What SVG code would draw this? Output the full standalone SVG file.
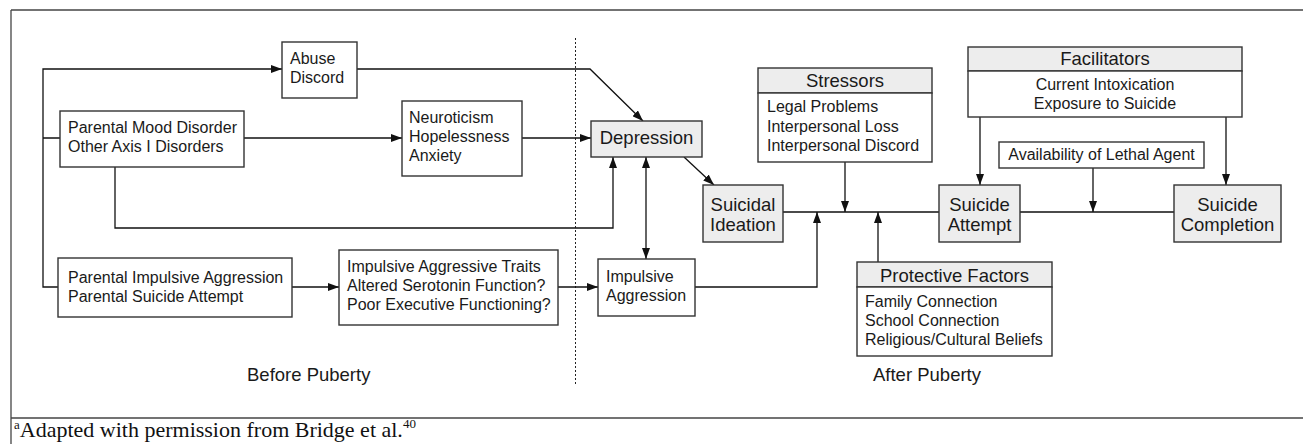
<svg xmlns="http://www.w3.org/2000/svg" width="1303" height="444" viewBox="0 0 1303 444">
<defs>
<marker id="arr" viewBox="0 0 11 8" refX="11" refY="4" markerWidth="11" markerHeight="8" markerUnits="userSpaceOnUse" orient="auto-start-reverse">
<path d="M0,0 L11,4 L0,8 z" fill="#111"/>
</marker>
<style>
.bx{fill:#fff;stroke:#333;stroke-width:1.4}
.sh{fill:#ededed;stroke:#333;stroke-width:1.4}
.t{font-family:"Liberation Sans",Arial,sans-serif;font-size:16px;fill:#1a1a1a}
.b{font-family:"Liberation Sans",Arial,sans-serif;font-size:18.5px;fill:#1a1a1a}
.c{text-anchor:middle}
.ln{fill:none;stroke:#111;stroke-width:1.3}
.ar{fill:none;stroke:#111;stroke-width:1.3;marker-end:url(#arr)}
</style>
</defs>
<rect width="1303" height="444" fill="#fff"/>
<g id="frame">
<line x1="11" y1="10" x2="1303" y2="10" stroke="#444" stroke-width="1.6"/>
<line x1="11" y1="10" x2="11" y2="444" stroke="#444" stroke-width="1.3"/>
<line x1="11" y1="418" x2="1303" y2="418" stroke="#444" stroke-width="1.6"/>
<line x1="575.5" y1="38" x2="575.5" y2="385" stroke="#222" stroke-width="1" stroke-dasharray="2,2"/>
</g>
<g id="connectors">
<path class="ar" d="M60,138 H43 M58,287 H43 V69 H282"/>
<path class="ar" d="M244,138 H402"/>
<path class="ar" d="M357,69 H590 L643,121"/>
<path class="ar" d="M522,138 H591"/>
<path class="ar" d="M115,167 V228 H613 V157"/>
<path class="ar" d="M646,157 V259" marker-start="url(#arr)"/>
<path class="ar" d="M684,157 L714,185"/>
<path class="ar" d="M292,287 H339"/>
<path class="ar" d="M558,287 H598"/>
<path class="ar" d="M695,287 H817 V212"/>
<path class="ln" d="M783,212 H939 M1020,212 H1174"/>
<path class="ar" d="M845,162 V212"/>
<path class="ar" d="M878,262 V212"/>
<path class="ar" d="M980,117 V185"/>
<path class="ar" d="M1226,117 V185"/>
<path class="ar" d="M1093,168 V212"/>
</g>
<g id="abuse">
<rect class="bx" x="282" y="42" width="75" height="56"/>
<text class="t" x="290" y="64">Abuse</text>
<text class="t" x="290" y="83">Discord</text>
</g>
<g id="parental-mood">
<rect class="bx" x="60" y="111" width="184" height="56"/>
<text class="t" x="68" y="133">Parental Mood Disorder</text>
<text class="t" x="68" y="152">Other Axis I Disorders</text>
</g>
<g id="neuroticism">
<rect class="bx" x="402" y="101" width="120" height="75"/>
<text class="t" x="409" y="123">Neuroticism</text>
<text class="t" x="409" y="142">Hopelessness</text>
<text class="t" x="409" y="161">Anxiety</text>
</g>
<g id="depression">
<rect class="sh" x="591" y="121" width="111" height="36"/>
<text class="b c" x="646.5" y="144">Depression</text>
</g>
<g id="suicidal-ideation">
<rect class="sh" x="703" y="185" width="80" height="57"/>
<text class="b c" x="743" y="211">Suicidal</text>
<text class="b c" x="743" y="231">Ideation</text>
</g>
<g id="parental-impulsive">
<rect class="bx" x="58" y="258" width="234" height="59"/>
<text class="t" x="68" y="283">Parental Impulsive Aggression</text>
<text class="t" x="68" y="302">Parental Suicide Attempt</text>
</g>
<g id="traits">
<rect class="bx" x="339" y="250" width="219" height="75"/>
<text class="t" x="347" y="272">Impulsive Aggressive Traits</text>
<text class="t" x="347" y="291">Altered Serotonin Function?</text>
<text class="t" x="347" y="310">Poor Executive Functioning?</text>
</g>
<g id="impulsive-aggression">
<rect class="bx" x="598" y="259" width="97" height="57"/>
<text class="t" x="606" y="282">Impulsive</text>
<text class="t" x="606" y="301">Aggression</text>
</g>
<g id="stressors">
<rect class="sh" x="758" y="68" width="174" height="25"/>
<rect class="bx" x="758" y="93" width="174" height="69"/>
<text class="b c" x="845" y="87">Stressors</text>
<text class="t" x="767" y="112">Legal Problems</text>
<text class="t" x="767" y="132">Interpersonal Loss</text>
<text class="t" x="767" y="151">Interpersonal Discord</text>
</g>
<g id="facilitators">
<rect class="sh" x="968" y="47" width="274" height="24"/>
<rect class="bx" x="968" y="71" width="274" height="46"/>
<text class="b c" x="1105" y="65">Facilitators</text>
<text class="t c" x="1105" y="90">Current Intoxication</text>
<text class="t c" x="1105" y="109">Exposure to Suicide</text>
</g>
<g id="lethal-agent">
<rect class="bx" x="999" y="142" width="205" height="26"/>
<text class="t c" x="1101.5" y="160">Availability of Lethal Agent</text>
</g>
<g id="suicide-attempt">
<rect class="sh" x="939" y="185" width="81" height="57"/>
<text class="b c" x="979.5" y="211">Suicide</text>
<text class="b c" x="979.5" y="231">Attempt</text>
</g>
<g id="suicide-completion">
<rect class="sh" x="1174" y="185" width="107" height="57"/>
<text class="b c" x="1227.5" y="211">Suicide</text>
<text class="b c" x="1227.5" y="231">Completion</text>
</g>
<g id="protective">
<rect class="sh" x="857" y="262" width="195" height="25"/>
<rect class="bx" x="857" y="287" width="195" height="69"/>
<text class="b c" x="954.5" y="282">Protective Factors</text>
<text class="t" x="865" y="307">Family Connection</text>
<text class="t" x="865" y="326">School Connection</text>
<text class="t" x="865" y="345">Religious/Cultural Beliefs</text>
</g>
<g id="labels">
<text class="b" x="247" y="381">Before Puberty</text>
<text class="b" x="873" y="381">After Puberty</text>
</g>
<g id="footnote">
<text x="14" y="437" font-family="'Liberation Serif','Times New Roman',serif" font-size="22" fill="#111"><tspan font-size="13" dy="-8">a</tspan><tspan dy="8">Adapted with permission from Bridge et al.</tspan><tspan font-size="13" dy="-9">40</tspan></text>
</g>
</svg>
